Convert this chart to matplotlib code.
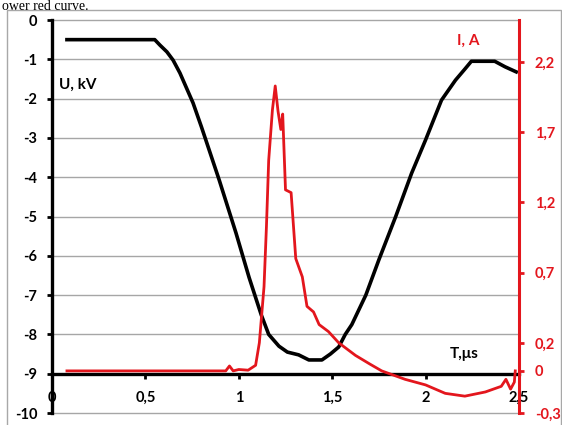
import matplotlib
matplotlib.use("Agg")
import matplotlib.pyplot as plt
from matplotlib.patches import Rectangle

# ---- data ----
t_u = [0.08, 0.55, 0.578, 0.615, 0.648, 0.685, 0.72, 0.755, 0.80, 0.895, 0.985, 1.055,
       1.12, 1.16, 1.215, 1.26, 1.32, 1.375, 1.445, 1.49, 1.535, 1.57, 1.605, 1.64,
       1.68, 1.75, 1.84, 1.925, 2.0, 2.085, 2.16, 2.21, 2.245, 2.37, 2.425, 2.485]
u_kv = [-0.5, -0.5, -0.64, -0.81, -1.02, -1.35, -1.73, -2.11, -2.72, -4.07, -5.42, -6.55,
        -7.5, -8.0, -8.3, -8.45, -8.52, -8.65, -8.65, -8.5, -8.32, -8.0, -7.75, -7.4,
        -7.0, -6.1, -5.0, -3.9, -3.05, -2.04, -1.53, -1.25, -1.05, -1.05, -1.19, -1.32]

t_i = [0.08, 0.93, 0.95, 0.97, 1.0, 1.05, 1.09, 1.11, 1.135, 1.148, 1.16, 1.18, 1.195,
       1.21, 1.225, 1.235, 1.25, 1.28, 1.305, 1.34, 1.365, 1.40, 1.43, 1.48, 1.535,
       1.625, 1.7, 1.765, 1.89, 2.0, 2.105, 2.21, 2.32, 2.405, 2.43, 2.455, 2.475, 2.48]
i_a = [0, 0, 0.035, 0.0, 0.01, 0.005, 0.04, 0.2, 0.6, 1.03, 1.5, 1.86, 2.03,
       1.85, 1.72, 1.83, 1.29, 1.27, 0.8, 0.67, 0.46, 0.42, 0.33, 0.28, 0.2,
       0.11, 0.05, 0.0, -0.06, -0.1, -0.16, -0.18, -0.15, -0.11, -0.06, -0.13, -0.08, 0.0]

x_ticks = [0, 0.5, 1, 1.5, 2, 2.5]
x_labels = ["0", "0,5", "1", "1,5", "2", "2,5"]
u_ticks = list(range(-10, 1))
i_ticks = [-0.3, 0, 0.2, 0.7, 1.2, 1.7, 2.2]
i_labels = ["-0,3", "0", "0,2", "0,7", "1,2", "1,7", "2,2"]

RED = "#e3161d"
FONT = ["Lato", "DejaVu Sans"]
W, H = 562, 425

plt.rcParams['axes.unicode_minus'] = False
fig = plt.figure(figsize=(W / 100, H / 100), dpi=100)
plt.rcParams['font.family'] = FONT

# outer frame
fig.patches.append(Rectangle((7 / W, -0.1), (561 - 7) / W, 1.1 - 10 / H,
                             transform=fig.transFigure, fill=False,
                             edgecolor="#a8a8a8", lw=1.0))
# caption fragment at top
fig.text(2 / W, 1 - 9.5 / H, "ower red curve.", family=["Liberation Serif"],
         fontsize=10, va="baseline", ha="left", color="black")

ax = fig.add_axes([52 / W, 1 - 413 / H, (519 - 52) / W, (413 - 20) / H])
ax.set_xlim(0, 2.5)
ax.set_ylim(-10, 0)
for v in u_ticks:
    ax.axhline(v, color="#a6a6a6", lw=1.0, zorder=0, clip_on=False)

ax.plot(t_u, u_kv, color="black", lw=2.6, zorder=3)

for s in ["top", "right"]:
    ax.spines[s].set_visible(False)
ax.spines["left"].set_linewidth(2.4)
ax.spines["bottom"].set_position(("data", -9))
ax.spines["bottom"].set_linewidth(2.4)
ax.set_xticks(x_ticks)
ax.set_xticklabels(x_labels)
ax.set_yticks(u_ticks)
ax.tick_params(axis="y", direction="out", length=3.5, width=2, pad=7,
               labelsize=10.5)
ax.tick_params(axis="x", direction="out", length=3.5, width=2, pad=9,
               labelsize=10.5)
for lab in ax.get_xticklabels() + ax.get_yticklabels():
    lab.set_fontweight("bold")

ax2 = ax.twinx()
ax2.set_ylim(-0.3, 2.5)
ax2.plot(t_i, i_a, color=RED, lw=2.0, zorder=4)
for s in ["top", "left", "bottom"]:
    ax2.spines[s].set_visible(False)
ax2.spines["right"].set_color(RED)
ax2.spines["right"].set_linewidth(2.2)
ax2.set_yticks(i_ticks)
ax2.set_yticklabels(i_labels)
ax2.tick_params(axis="y", colors=RED, direction="out", length=3.5, width=2,
                pad=8, labelsize=10.5)
for lab in ax2.get_yticklabels():
    lab.set_fontweight("bold")

fig.text(59 / W, 1 - 85 / H, "U, kV", fontsize=11, fontweight="bold",
         va="center", ha="left", color="black")
fig.text(457 / W, 1 - 41 / H, "I, A", fontsize=11, fontweight="bold",
         va="center", ha="left", color=RED)
fig.text(450 / W, 1 - 354 / H, "T,\u03bcs", fontsize=11, fontweight="bold",
         va="center", ha="left", color="black")

fig.savefig("out.png", dpi=100)
